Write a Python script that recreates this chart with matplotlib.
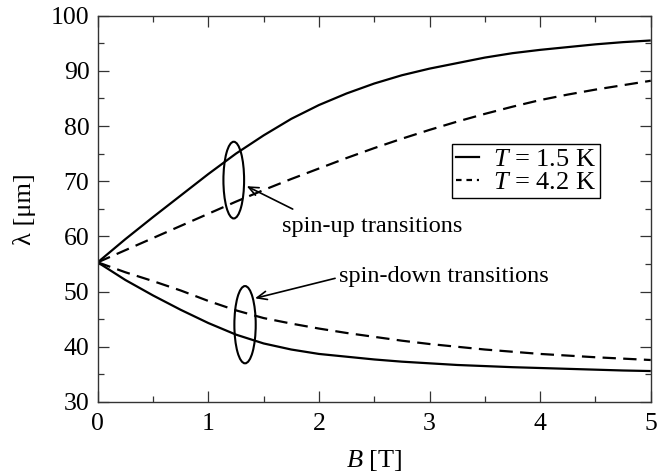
import matplotlib
matplotlib.use("Agg")
import matplotlib.pyplot as plt
from matplotlib.patches import Ellipse
from matplotlib.lines import Line2D
from matplotlib.ticker import MultipleLocator

plt.rcParams['font.family'] = ['Liberation Serif', 'DejaVu Serif']
plt.rcParams['mathtext.fontset'] = 'custom'
plt.rcParams['mathtext.rm'] = 'Liberation Serif'
plt.rcParams['mathtext.it'] = 'Liberation Serif:italic'

B = [0.0, 0.25, 0.5, 0.75, 1.0, 1.25, 1.5, 1.75, 2.0, 2.25, 2.5,
     2.75, 3.0, 3.25, 3.5, 3.75, 4.0, 4.25, 4.5, 4.75, 5.0]

up_15K = [55.3, 59.5, 63.5, 67.4, 71.3, 75.0, 78.3, 81.3, 83.8, 85.9, 87.7,
          89.2, 90.4, 91.4, 92.4, 93.2, 93.8, 94.3, 94.8, 95.2, 95.5]
up_42K = [55.3, 57.5, 59.7, 61.9, 64.1, 66.3, 68.4, 70.4, 72.3, 74.2, 76.0,
          77.7, 79.3, 80.8, 82.2, 83.5, 84.7, 85.7, 86.6, 87.4, 88.2]
down_15K = [55.3, 52.1, 49.3, 46.7, 44.3, 42.2, 40.6, 39.5, 38.7, 38.2, 37.7,
            37.3, 37.0, 36.7, 36.5, 36.3, 36.15, 36.0, 35.85, 35.7, 35.6]
down_42K = [55.3, 53.5, 51.9, 50.2, 48.3, 46.6, 45.2, 44.2, 43.3, 42.5, 41.8,
            41.1, 40.5, 40.0, 39.5, 39.1, 38.7, 38.4, 38.1, 37.85, 37.6]

legend_labels = ['$T$ = 1.5 K', '$T$ = 4.2 K']

fig = plt.figure(figsize=(6.58, 4.74), dpi=100)
ax = fig.add_axes([0.1485, 0.152, 0.8405, 0.815])

lw = 1.6
dash = (0, (6, 3.3))
ax.plot(B, up_15K, color='black', lw=lw, solid_capstyle='butt', solid_joinstyle='round')
ax.plot(B, down_15K, color='black', lw=lw, solid_capstyle='butt', solid_joinstyle='round')
ax.plot(B, up_42K, color='black', lw=lw, linestyle=dash)
ax.plot(B, down_42K, color='black', lw=lw, linestyle=dash)

ax.set_xlim(0, 5)
ax.set_ylim(30, 100)
ax.xaxis.set_major_locator(MultipleLocator(1))
ax.xaxis.set_minor_locator(MultipleLocator(0.5))
ax.yaxis.set_major_locator(MultipleLocator(10))
ax.yaxis.set_minor_locator(MultipleLocator(5))
ax.tick_params(which='both', direction='in', top=True, right=True,
               labelsize=18.5, width=0.9, color='#333333')
ax.tick_params(which='major', length=8)
ax.tick_params(axis='x', which='major', pad=8)
ax.tick_params(axis='y', which='major', pad=6)
ax.tick_params(which='minor', length=4)
for s in ax.spines.values():
    s.set_color('#333333')
    s.set_linewidth(1.0)

ax.set_xlabel('$B$ [T]', fontsize=19, labelpad=9)
ax.set_ylabel('λ [μm]', fontsize=19, labelpad=10.5)

# ellipses
ax.add_patch(Ellipse((1.23, 70.2), 0.187, 13.9, fill=False, lw=1.5, color='black'))
ax.add_patch(Ellipse((1.332, 44.0), 0.193, 14.0, fill=False, lw=1.5, color='black'))

arrow = dict(arrowstyle='->,head_length=0.7,head_width=0.3', lw=1.2, color='black',
             shrinkA=0, shrinkB=0)
ax.annotate('', xy=(1.347, 69.1), xytext=(1.763, 64.95), arrowprops=arrow)
ax.annotate('', xy=(1.422, 48.78), xytext=(2.146, 52.4), arrowprops=arrow)
ax.text(1.664, 60.84, 'spin-up transitions', fontsize=17.5, va='baseline', ha='left')
ax.text(2.185, 51.8, 'spin-down transitions', fontsize=17.5, va='baseline', ha='left')

handles = [Line2D([], [], color='black', lw=lw),
           Line2D([], [], color='black', lw=lw, linestyle=(0, (2.5, 2.2)))]
leg = ax.legend(handles, legend_labels, loc='upper left', bbox_to_anchor=(0.64, 0.669),
                fontsize=19, frameon=True, fancybox=False, framealpha=1,
                edgecolor='black', handlelength=0.9, handletextpad=0.5,
                labelspacing=0.0, borderpad=0.15, borderaxespad=0)
leg.get_frame().set_linewidth(1.0)

fig.savefig('out.png', dpi=100)
